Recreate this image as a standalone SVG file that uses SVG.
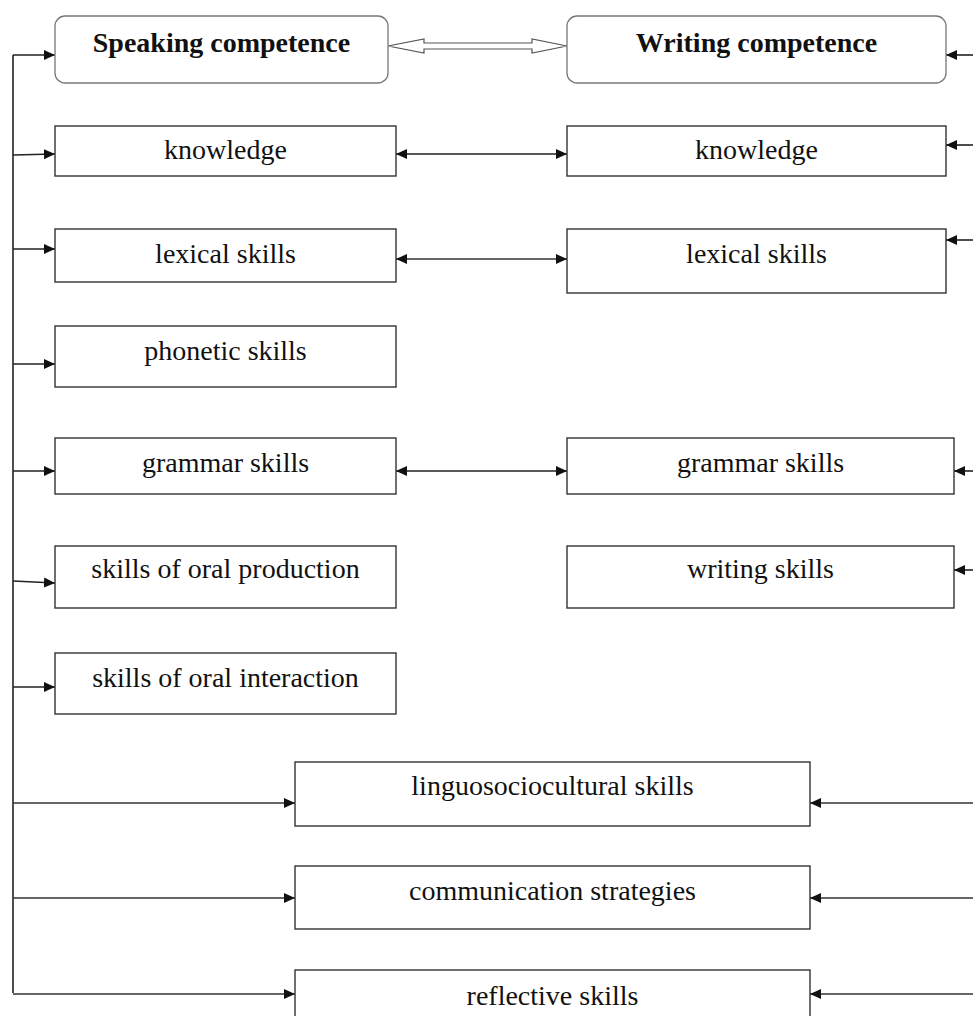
<svg xmlns="http://www.w3.org/2000/svg" width="973" height="1016" viewBox="0 0 973 1016">
<defs>
<marker id="ah" markerUnits="userSpaceOnUse" markerWidth="12" markerHeight="11" refX="11" refY="5" orient="auto-start-reverse">
<path d="M0,0 L11,5 L0,10 z" fill="#111"/>
</marker>
</defs>
<style>
.box{fill:#fff;stroke:#333;stroke-width:1.4}
.rbox{fill:#fff;stroke:#777;stroke-width:1.3}
.t{font-family:"Liberation Serif","Times New Roman",serif;font-size:28px;fill:#111;text-anchor:middle}
.b{font-weight:bold}
.c{fill:none;stroke:#222;stroke-width:1.6}
.c2{fill:none;stroke:#333;stroke-width:1.4}
</style>
<rect width="973" height="1016" fill="#fff"/>
<g id="connectors">
<path class="c" d="M13,993 V55"/>
<path class="c" d="M13,55 H55" marker-end="url(#ah)"/>
<path class="c" d="M13,155 L55,154" marker-end="url(#ah)"/>
<path class="c" d="M13,249 H55" marker-end="url(#ah)"/>
<path class="c" d="M13,364 H55" marker-end="url(#ah)"/>
<path class="c" d="M13,471 H55" marker-end="url(#ah)"/>
<path class="c" d="M13,581 L55,583" marker-end="url(#ah)"/>
<path class="c" d="M13,687 H55" marker-end="url(#ah)"/>
<path class="c2" d="M13,803 H295" marker-end="url(#ah)"/>
<path class="c2" d="M13,898 H295" marker-end="url(#ah)"/>
<path class="c2" d="M13,994 H295" marker-end="url(#ah)"/>
<path class="c" d="M973,55 H946" marker-end="url(#ah)"/>
<path class="c" d="M973,145 H946" marker-end="url(#ah)"/>
<path class="c" d="M973,240 H946" marker-end="url(#ah)"/>
<path class="c" d="M973,471 H954" marker-end="url(#ah)"/>
<path class="c" d="M973,570 H954" marker-end="url(#ah)"/>
<path class="c2" d="M973,803 H810" marker-end="url(#ah)"/>
<path class="c2" d="M973,898 H810" marker-end="url(#ah)"/>
<path class="c2" d="M973,994 H810" marker-end="url(#ah)"/>
<path class="c" d="M396,154 H567" marker-start="url(#ah)" marker-end="url(#ah)"/>
<path class="c2" d="M396,259 H567" marker-start="url(#ah)" marker-end="url(#ah)"/>
<path class="c" d="M396,471 H567" marker-start="url(#ah)" marker-end="url(#ah)"/>
<polygon points="388,46 424,39 424,43 532,43 532,39 567,46 532,53 532,49 424,49 424,53" fill="#fff" stroke="#555" stroke-width="1.2"/>
</g>
<g id="speaking-competence"><rect class="rbox" x="55" y="16" width="333" height="67" rx="10"/><text class="t b" x="221.5" y="52">Speaking competence</text></g>
<g id="writing-competence"><rect class="rbox" x="567" y="16" width="379" height="67" rx="10"/><text class="t b" x="756.5" y="52">Writing competence</text></g>
<g id="s-knowledge"><rect class="box" x="55" y="126" width="341" height="50"/><text class="t" x="225.5" y="159">knowledge</text></g>
<g id="w-knowledge"><rect class="box" x="567" y="126" width="379" height="50"/><text class="t" x="756.5" y="159">knowledge</text></g>
<g id="s-lexical"><rect class="box" x="55" y="229" width="341" height="53"/><text class="t" x="225.5" y="263">lexical skills</text></g>
<g id="w-lexical"><rect class="box" x="567" y="229" width="379" height="64"/><text class="t" x="756.5" y="263">lexical skills</text></g>
<g id="s-phonetic"><rect class="box" x="55" y="326" width="341" height="61"/><text class="t" x="225.5" y="360">phonetic skills</text></g>
<g id="s-grammar"><rect class="box" x="55" y="438" width="341" height="56"/><text class="t" x="225.5" y="472">grammar skills</text></g>
<g id="w-grammar"><rect class="box" x="567" y="438" width="387" height="56"/><text class="t" x="760.5" y="472">grammar skills</text></g>
<g id="s-oral-production"><rect class="box" x="55" y="546" width="341" height="62"/><text class="t" x="225.5" y="578">skills of oral production</text></g>
<g id="w-writing"><rect class="box" x="567" y="546" width="387" height="62"/><text class="t" x="760.5" y="578">writing skills</text></g>
<g id="s-oral-interaction"><rect class="box" x="55" y="653" width="341" height="61"/><text class="t" x="225.5" y="687">skills of oral interaction</text></g>
<g id="linguosociocultural"><rect class="box" x="295" y="762" width="515" height="64"/><text class="t" x="552.5" y="795">linguosociocultural skills</text></g>
<g id="communication"><rect class="box" x="295" y="866" width="515" height="63"/><text class="t" x="552.5" y="900">communication strategies</text></g>
<g id="reflective"><rect class="box" x="295" y="970" width="515" height="60"/><text class="t" x="552.5" y="1005">reflective skills</text></g>
</svg>
